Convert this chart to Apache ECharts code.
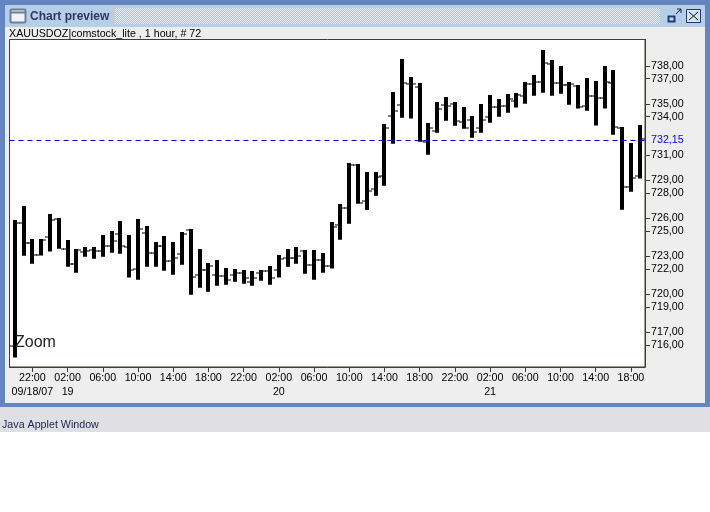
<!DOCTYPE html>
<html><head><meta charset="utf-8">
<style>html,body{margin:0;padding:0;background:#fff}#c{width:710px;height:512px}</style>
<script src="https://cdn.jsdelivr.net/npm/echarts@6/dist/echarts.min.js"></script>
</head><body><div id="c"></div>
<script>
const opens=[715.94,725.62,724.01,723.07,724.49,725.91,723.59,722.41,723.33,723.49,723.41,723.80,724.75,723.72,721.96,724.83,723.25,723.78,722.59,723.17,725.07,721.52,721.91,721.52,721.44,721.52,721.65,720.96,721.65,721.83,721.88,722.83,722.83,723.41,722.28,722.67,722.20,725.43,726.80,730.19,727.33,728.27,729.30,734.03,734.90,736.58,736.34,732.01,732.87,734.90,734.98,733.56,733.71,733.08,733.95,734.77,734.84,735.24,735.63,736.58,736.74,738.16,736.63,736.47,736.42,734.84,735.63,735.48,736.63,733.11,728.43,729.33];
const highs=[725.85,726.96,724.36,724.36,726.33,726.01,724.28,723.57,723.72,723.72,724.67,724.99,725.78,724.67,725.93,725.38,724.12,724.59,724.12,724.91,725.14,723.57,722.46,722.70,722.07,721.99,721.91,721.83,721.91,722.23,723.09,723.57,723.72,723.49,723.49,723.25,725.70,727.12,730.35,730.27,729.64,729.64,733.42,735.95,738.55,737.13,736.66,733.50,735.16,735.55,735.16,734.77,734.06,735.00,735.71,735.40,735.79,735.87,736.74,737.29,739.26,738.47,738.00,736.74,736.50,737.05,736.82,738.00,737.68,733.19,731.93,733.35];
const lows=[715.00,723.04,722.41,723.05,723.36,723.59,722.17,721.70,722.96,722.80,722.96,723.28,723.20,721.31,721.15,722.17,722.17,721.86,721.54,722.33,719.96,720.52,720.20,720.67,720.75,720.99,720.83,720.67,721.07,720.75,721.31,722.17,722.41,721.62,721.15,721.70,722.02,724.30,725.56,727.14,726.64,727.77,728.56,731.87,733.92,733.85,732.03,731.01,732.74,733.69,733.29,733.06,732.35,732.74,733.53,734.00,734.32,734.72,735.03,735.66,735.90,735.66,735.82,734.95,734.64,734.48,733.30,734.64,732.58,726.67,728.09,729.12];
const closes=[725.62,724.01,723.07,724.28,725.85,723.59,722.38,723.49,723.41,723.41,723.80,724.20,723.78,721.91,725.14,723.25,723.78,722.59,722.88,724.75,721.36,721.91,722.25,721.44,721.12,721.65,721.28,721.28,721.83,721.28,722.75,722.83,722.99,722.28,722.67,722.20,725.28,726.80,730.19,727.17,728.14,729.24,733.11,734.42,736.63,736.55,732.06,733.08,734.58,734.82,733.64,733.08,732.82,733.71,734.77,734.84,735.40,735.71,736.58,736.74,738.24,736.63,736.47,736.58,734.79,735.63,735.48,736.74,733.19,728.43,729.17,732.24];
const tickIndex=[2,6,10,14,18,22,26,30,34,38,42,46,50,54,58,62,66,70];
const tickTimes=['22:00','02:00','06:00','10:00','14:00','18:00','22:00','02:00','06:00','10:00','14:00','18:00','22:00','02:00','06:00','10:00','14:00','18:00'];
const tickDates=['09/18/07','19','','','','','','20','','','','','','21','','','',''];
const priceTicks=[716,717,719,720,722,723,725,726,728,729,731,734,735,737,738];
const lastPrice=732.15;
const seriesTitle='XAUUSDOZ|comstock_lite , 1 hour, # 72';

const FONT='"Liberation Sans",Arial,sans-serif';
const dots=document.createElement('canvas');dots.width=2;dots.height=2;
const dc=dots.getContext('2d');dc.fillStyle='#a9c3e0';dc.fillRect(0,0,2,2);dc.fillStyle='#eaf0f8';dc.fillRect(0,0,1,1);dc.fillRect(1,1,1,1);

const rect=(x,y,w,h,fill,extra)=>Object.assign({type:'rect',silent:true,z:-10,shape:{x,y,width:w,height:h},style:{fill}},extra||{});
const text=(x,y,t,font,fill)=>({type:'text',silent:true,x,y,z:5,style:{text:t,font,fill,textVerticalAlign:'middle'}});
const ln=(x1,y1,x2,y2,c,w)=>({type:'line',silent:true,z:5,shape:{x1,y1,x2,y2},style:{stroke:c,lineWidth:w||1}});

const chrome=[
 rect(0,0,710,408,'#6485c0'),
 rect(5,5,700,22,'#b7cfe6'),
 rect(115,8,545,16,{image:dots,repeat:'repeat'}),
 rect(5,27,700,376,'#eeeeee'),
 rect(0,407,710,25,'#e0dfe3'),
 rect(0,432,710,80,'#ffffff'),
 {type:'rect',silent:true,z:5,shape:{x:10.5,y:9.5,width:15,height:13,r:1},style:{fill:'#eef3f9',stroke:'#6f7f93',lineWidth:2}},
 ln(11,12.5,25,12.5,'#6f7f93',2),
 text(30,17,'Chart preview','bold 12px '+FONT,'#2f3566'),
 text(9,34,seriesTitle,'10.7px '+FONT,'#000000'),
 text(2,425,'Java Applet Window','10.7px '+FONT,'#1c2350'),
 text(15,342.5,'Zoom','16px '+FONT,'#222222'),
 {type:'rect',silent:true,z:5,shape:{x:668.5,y:16.5,width:6,height:5},style:{fill:'#c8d8ec',stroke:'#233a70',lineWidth:2}},
 ln(676,14,681,9,'#222',1),ln(677,9,681,9,'#222',1),ln(681,9,681,13,'#222',1),
 {type:'rect',silent:true,z:5,shape:{x:686.5,y:9.5,width:14,height:13},style:{fill:'#d5e2f0',stroke:'#233a70',lineWidth:1}},
 ln(689,12,698,20,'#111',1),ln(698,12,689,20,'#111',1)
];

const ohlc=opens.map((o,i)=>[i,o,highs[i],lows[i],closes[i]]);
function renderBar(params,api){
  const i=api.value(0);
  const hi=api.coord([i,api.value(2)]),lo=api.coord([i,api.value(3)]);
  const op=api.coord([i,api.value(1)]),cl=api.coord([i,api.value(4)]);
  const cx=Math.round(hi[0]);
  return {type:'group',children:[
    {type:'rect',shape:{x:cx-2,y:hi[1],width:4,height:lo[1]-hi[1]},style:{fill:'#000'}},
    {type:'rect',shape:{x:cx-5,y:Math.round(op[1])-0.5,width:3,height:1},style:{fill:'#000'}},
    {type:'rect',shape:{x:cx+2,y:Math.round(cl[1])-0.5,width:3,height:1},style:{fill:'#000'}}
  ]};
}
const axisC='#3f3f2f';
const chart=echarts.init(document.getElementById('c'),null,{renderer:'canvas'});
chart.setOption({
  animation:false,backgroundColor:'#ffffff',
  graphic:{elements:chrome},
  grid:{left:9.5,top:39.5,width:635.5,height:327.5,show:true,backgroundColor:'#ffffff',borderColor:axisC,borderWidth:1,containLabel:false},
  xAxis:{type:'value',min:-0.6,max:71.6,splitLine:{show:false},
    axisLine:{show:true,onZero:false,lineStyle:{color:axisC}},
    axisTick:{show:true,length:5,lineStyle:{color:axisC},customValues:tickIndex},
    axisLabel:{customValues:tickIndex,margin:4,fontFamily:FONT,fontSize:10.7,color:'#000',lineHeight:14,hideOverlap:false,
      formatter:v=>{const k=tickIndex.indexOf(v);return tickTimes[k]+'\n'+(tickDates[k]||' ');}}},
  yAxis:{type:'value',position:'right',min:714.26,max:740.09,splitLine:{show:false},
    axisLine:{show:true,onZero:false,lineStyle:{color:axisC}},
    axisTick:{show:true,length:5,lineStyle:{color:axisC},customValues:priceTicks},
    axisLabel:{customValues:priceTicks,margin:6,fontFamily:FONT,fontSize:10.7,color:'#000',hideOverlap:false,
      formatter:v=>v.toFixed(2).replace('.',',')}},
  series:[{type:'custom',data:ohlc,renderItem:renderBar,encode:{x:0,y:[1,2,3,4]},clip:true,silent:true,
    markLine:{silent:true,symbol:'none',animation:false,
      data:[{yAxis:lastPrice}],
      lineStyle:{color:'#0000c8',type:[5,4],width:1},
      label:{show:true,position:'end',distance:6,formatter:lastPrice.toFixed(2).replace('.',','),color:'#0000ff',fontFamily:FONT,fontSize:10.7}}}]
});
</script></body></html>
